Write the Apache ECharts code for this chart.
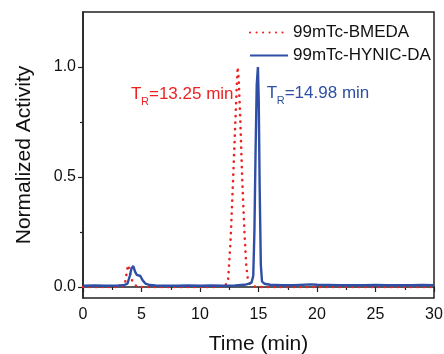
<!DOCTYPE html>
<html><head><meta charset="utf-8">
<script src="https://cdn.jsdelivr.net/npm/echarts@6/dist/echarts.min.js"></script>
<style>html,body{margin:0;padding:0;background:#fff}#c{width:444px;height:354px}</style>
</head><body><div id="c"></div>
<script>
var seriesNames = ['99mTc-BMEDA', '99mTc-HYNIC-DA'];
var redTime = [0,1,2,3,3.4,3.6,3.75,3.85,3.95,4.05,4.2,4.35,4.55,4.8,5.2,6,8,10,11,12,12.2,12.4,12.6,12.8,13.0,13.15,13.22,13.3,13.45,13.6,13.8,13.95,14.1,14.3,14.6,15,16,18,20,22,24,26,28,30];
var redVals = [0,0,0,0,0.003,0.02,0.07,0.1,0.085,0.055,0.03,0.015,0.005,0,0,0,0,0,0,0.003,0.01,0.03,0.2,0.45,0.72,0.92,1.0,0.95,0.75,0.5,0.25,0.1,0.03,0.01,0.003,0,0,0,0,0,0,0,0,0];
var blueTime = [0,1,2,3,3.5,3.8,4.0,4.15,4.3,4.45,4.6,4.75,4.9,5.1,5.35,5.7,6.2,7,8,9,10,11,12,13,13.8,14.2,14.4,14.55,14.65,14.75,14.85,14.95,15.02,15.1,15.2,15.3,15.5,16,17,18,19.5,20,21,22,23,24,25,26,27,28,29,30];
var blueVals = [0.006,0.007,0.006,0.007,0.008,0.015,0.05,0.085,0.095,0.07,0.055,0.058,0.05,0.03,0.015,0.009,0.007,0.006,0.006,0.007,0.006,0.007,0.006,0.007,0.01,0.015,0.02,0.05,0.25,0.62,0.92,1.0,0.85,0.45,0.1,0.025,0.015,0.01,0.008,0.008,0.012,0.01,0.009,0.008,0.008,0.008,0.009,0.008,0.008,0.008,0.009,0.008];
var xTicks = [0,5,10,15,20,25,30];
var yTicks = [0,0.5,1.0];
var yMinorTicks = [0.25,0.75];
var annotations = [
  {text:'=13.25 min', t:4.1, v:0.87, color:'#ee2222'},
  {text:'=14.98 min', t:15.7, v:0.875, color:'#2f4fa6'}
];

function pairs(xs, ys){ return xs.map(function(x,i){return [x, ys[i]];}); }
var RED = '#ee2222', BLUE = '#2f4fa6';
var chart = echarts.init(document.getElementById('c'), null, {renderer:'canvas'});
var font = 'Liberation Sans, Arial, sans-serif';
var option = {
  animation:false,
  backgroundColor:'#fff',
  grid:{left:83, right:10, top:12, bottom:56, show:true, borderColor:'#222', borderWidth:1.5, containLabel:false, outerBoundsMode:'none'},
  legend:{
    orient:'vertical', left:244, top:19, itemWidth:38, itemHeight:12, itemGap:6,
    itemStyle:{opacity:0},
    textStyle:{fontFamily:font, fontSize:17, color:'#111'},
    data:[seriesNames[0], seriesNames[1]]
  },
  xAxis:{
    type:'value', min:0, max:30, interval:5,
    name:'Time (min)', nameLocation:'middle', nameGap:36,
    nameTextStyle:{fontFamily:font, fontSize:21, color:'#111'},
    axisLine:{lineStyle:{color:'#222', width:1.5}},
    axisTick:{show:true, length:5, inside:false, lineStyle:{color:'#222', width:1.2}},
    minorTick:{show:true, splitNumber:2, length:3, lineStyle:{color:'#222', width:1.2}},
    axisLabel:{fontFamily:font, fontSize:16, color:'#111', margin:9,
      formatter:function(v){return xTicks.indexOf(v)>=0 ? String(v) : '';}},
    splitLine:{show:false}
  },
  yAxis:[{
    type:'value', min:-0.05, max:1.25,
    name:'Normalized Activity', nameLocation:'middle', nameGap:48,
    nameTextStyle:{fontFamily:font, fontSize:21, color:'#111'},
    axisLine:{show:true, lineStyle:{color:'#222', width:1.5}},
    axisTick:{show:true, length:5, customValues:yTicks, lineStyle:{color:'#222', width:1.2}},
    axisLabel:{fontFamily:font, fontSize:16, color:'#111', margin:7, customValues:yTicks,
      formatter:function(v){return v.toFixed(1);}},
    splitLine:{show:false}
  },{
    type:'value', min:-0.05, max:1.25, position:'left',
    axisLine:{show:false},
    axisTick:{show:true, length:3, customValues:yMinorTicks, lineStyle:{color:'#222', width:1.2}},
    axisLabel:{show:false},
    splitLine:{show:false}
  }],
  series:[{
    name:seriesNames[0], type:'line', data:pairs(redTime, redVals), showSymbol:false, symbol:'none',
    itemStyle:{color:RED},
    lineStyle:{color:RED, width:2.6, type:[0.1,6.4], cap:'round'}, z:2
  },{
    name:seriesNames[1], type:'line', data:pairs(blueTime, blueVals), showSymbol:false, symbol:'none',
    itemStyle:{color:BLUE},
    lineStyle:{color:BLUE, width:2.4}, z:3
  }]
};
chart.setOption(option);
var g = [];
annotations.forEach(function(a){
  var p = chart.convertToPixel({gridIndex:0}, [a.t, a.v]);
  var x = p[0], y = p[1];
  g.push({type:'text', left:x, top:y-10, style:{text:'T', font:'17px '+font, fill:a.color}});
  g.push({type:'text', left:x+10, top:y+1, style:{text:'R', font:'11px '+font, fill:a.color}});
  g.push({type:'text', left:x+18, top:y-10, style:{text:a.text, font:'17px '+font, fill:a.color}});
});
chart.setOption({graphic:g});
</script></body></html>
